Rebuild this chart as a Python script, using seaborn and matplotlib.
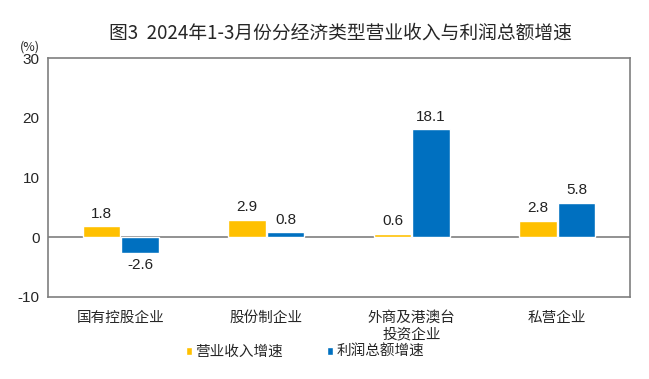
import numpy as np
import pandas as pd
import matplotlib
matplotlib.use("Agg")
import matplotlib.pyplot as plt
import seaborn as sns

CATEGORIES = ["国有控股企业", "股份制企业", "外商及港澳台\n投资企业", "私营企业"]
REVENUE    = [1.8, 2.9, 0.6, 2.8]
PROFIT     = [-2.6, 0.8, 18.1, 5.8]
SERIES     = ["营业收入增速", "利润总额增速"]
COLORS     = ["#FFC000", "#0070C0"]

df = pd.DataFrame({
    "cat":   CATEGORIES * 2,
    "value": REVENUE + PROFIT,
    "series": [SERIES[0]] * 4 + [SERIES[1]] * 4,
})

sns.set_style("white")
plt.rcParams["font.family"] = ["Noto Sans CJK SC", "DejaVu Sans"]

fig = plt.figure(figsize=(6.49, 3.79), dpi=100)
ax = fig.add_axes([48 / 649, 1 - 297 / 379, (630 - 48) / 649, (297 - 58) / 379])

sns.barplot(data=df, x="cat", y="value", hue="series", palette=COLORS,
            saturation=1, width=0.53, gap=0.03, ax=ax, legend=True)

num_font = ["Liberation Sans", "DejaVu Sans"]
for cont in ax.containers:
    labels = ax.bar_label(cont, fmt="%.1f", padding=4, fontsize=11, color="#222222")
    for t in labels:
        t.set_family(num_font)

ax.set_ylim(-10, 30)
ax.set_yticks([-10, 0, 10, 20, 30])
ax.set_yticklabels(["-10", "0", "10", "20", "30"], family=num_font, fontsize=11)
ax.set_xlim(-0.5, 3.5)
ax.axhline(0, color="#7f7f7f", lw=1.2, zorder=0)
ax.set_xlabel("")
ax.set_ylabel("")
ax.tick_params(axis="y", direction="in", length=4, color="#7f7f7f", pad=6)
ax.tick_params(axis="x", length=0, pad=10, labelsize=10.5)
for s in ax.spines.values():
    s.set_color("#7f7f7f")
    s.set_linewidth(1.2)

fig.text(20 / 649, 1 - 47 / 379, "(%)", fontsize=9, ha="left", va="center")
fig.text(340 / 649, 1 - 33 / 379, "图3  2024年1-3月份分经济类型营业收入与利润总额增速",
         fontsize=13.5, ha="center", va="center")

ax.legend(loc="center", bbox_to_anchor=(305 / 649, 1 - 352 / 379),
          bbox_transform=fig.transFigure, ncol=2, frameon=False,
          handlelength=0.45, handleheight=0.45, handletextpad=0.2,
          columnspacing=3.0, fontsize=10.5)

fig.savefig("out.png", dpi=100)
